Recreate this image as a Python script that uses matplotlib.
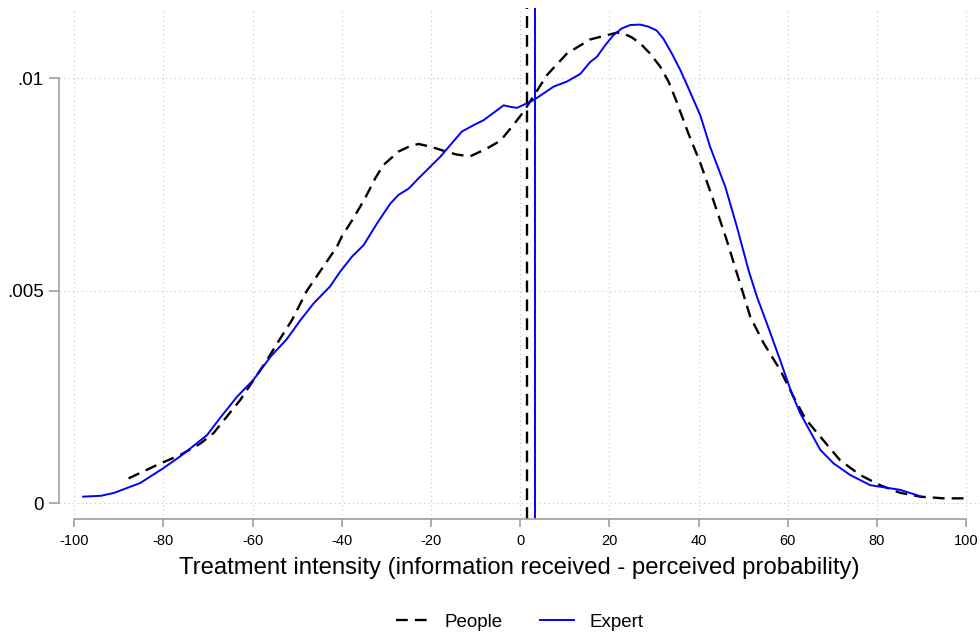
import numpy as np
import matplotlib.pyplot as plt

plt.rcParams['font.family'] = ['Liberation Sans', 'DejaVu Sans']

# kernel densities
people_x = [-87.8, -80.7, -76.2, -71.7, -68.8, -65.8, -62.8, -59.8, -56.8, -53.8,
            -51.2, -47.8, -41.1, -40.0, -37.4, -34.8, -32.5, -30.7, -27.3, -24.7,
            -22.8, -19.8, -17.2, -14.2, -11.2, -7.5, -5.2, -3.7, -1.5, 0.7,
            3.4, 6.0, 10.5, 15.7, 18.7, 21.7, 23.2, 25.0, 26.9, 29.1,
            31.4, 33.3, 34.8, 37.7, 40.4, 43.3, 46.3, 49.3, 51.6, 54.6,
            58.3, 61.3, 63.9, 67.3, 71.7, 76.2, 80.7, 85.2, 89.7, 95.0,
            99.8]
people_y = [0.00058, 0.00093, 0.00113, 0.00140, 0.00164, 0.00203, 0.00242, 0.00289, 0.00336, 0.00387,
            0.00430, 0.00500, 0.00603, 0.00627, 0.00670, 0.00717, 0.00764, 0.00795, 0.00827, 0.00840,
            0.00845, 0.00838, 0.00829, 0.00820, 0.00816, 0.00834, 0.00848, 0.00862, 0.00890, 0.00920,
            0.00964, 0.01007, 0.01058, 0.01091, 0.01099, 0.01107, 0.01105, 0.01096, 0.01082, 0.01058,
            0.01027, 0.00991, 0.00952, 0.00870, 0.00800, 0.00713, 0.00619, 0.00517, 0.00438, 0.00376,
            0.00313, 0.00250, 0.00199, 0.00156, 0.00101, 0.00066, 0.00042, 0.00024, 0.00015, 0.00011,
            0.00011]

expert_x = [-98.0, -94.0, -91.0, -85.2, -80.0, -75.8, -70.2, -67.3, -63.5, -59.8,
            -56.0, -52.3, -49.3, -46.3, -42.6, -40.4, -37.7, -35.1, -32.1, -29.1,
            -27.3, -25.0, -22.8, -20.2, -17.9, -15.7, -13.1, -10.5, -8.2, -3.7,
            -2.0, -0.7, 3.0, 7.5, 10.5, 13.5, 15.7, 17.2, 19.1, 20.9,
            22.8, 24.7, 26.9, 28.8, 30.6, 32.1, 34.0, 35.9, 37.4, 38.9,
            40.4, 42.6, 46.0, 48.6, 51.2, 53.1, 55.3, 58.3, 60.9, 62.8,
            67.3, 70.3, 74.0, 78.5, 85.2, 89.7]
expert_y = [0.00015, 0.00017, 0.00024, 0.00047, 0.00082, 0.00113, 0.00160, 0.00200, 0.00250, 0.00290,
            0.00344, 0.00386, 0.00430, 0.00470, 0.00510, 0.00544, 0.00580, 0.00607, 0.00658, 0.00705,
            0.00725, 0.00740, 0.00764, 0.00791, 0.00815, 0.00842, 0.00874, 0.00889, 0.00901, 0.00936,
            0.00932, 0.00930, 0.00948, 0.00980, 0.00992, 0.01010, 0.01038, 0.01050, 0.01078, 0.01101,
            0.01117, 0.01125, 0.01126, 0.01121, 0.01112, 0.01093, 0.01058, 0.01019, 0.00984, 0.00948,
            0.00912, 0.00838, 0.00744, 0.00650, 0.00548, 0.00485, 0.00423, 0.00336, 0.00258, 0.00211,
            0.00125, 0.00093, 0.00066, 0.00042, 0.00031, 0.00016]

# means
people_mean = 1.5
expert_mean = 3.3

x_ticks = list(range(-100, 101, 20))
y_ticks = [0, 0.005, 0.01]
y_labels = ['0', '.005', '.01']

fig = plt.figure(figsize=(9.8, 6.35), dpi=100)
ax = fig.add_axes([59 / 980, 116 / 635, 921 / 980, 511 / 635])

ax.plot(people_x, people_y, color='black', lw=1.7, dashes=(5, 3), label='People')
ax.plot(expert_x, expert_y, color='#0000ff', lw=1.4, label='Expert')
ax.axvline(people_mean, color='black', lw=1.7, dashes=(5, 3))
ax.axvline(expert_mean, color='#0000ff', lw=1.4)

ax.set_xlim(-103.4, 103.1)
ax.set_ylim(-0.000376, 0.01165)

ax.set_xticks(x_ticks)
ax.set_xticklabels([str(t) for t in x_ticks])
ax.set_yticks(y_ticks)
ax.set_yticklabels(y_labels)

ax.grid(True, color='#c4c4c4', lw=0.8, linestyle=(0, (1, 3)))
ax.set_axisbelow(True)

for s in ['top', 'right']:
    ax.spines[s].set_visible(False)
ax.spines['left'].set_bounds(0, 0.01)
ax.spines['bottom'].set_bounds(-100, 100)
for s in ['left', 'bottom']:
    ax.spines[s].set_color('#a0a0a0')
    ax.spines[s].set_linewidth(1.2)

ax.tick_params(axis='y', length=7, width=1.2, color='#a0a0a0', labelsize=13.5, pad=4)
ax.tick_params(axis='x', length=6, width=1.2, color='#a0a0a0', labelsize=10.5, pad=5)

ax.set_xlabel('Treatment intensity (information received - perceived probability)',
              fontsize=17.2, labelpad=6)

fig.legend(loc='center', bbox_to_anchor=(519.5 / 980, 13 / 635), ncol=2, frameon=False,
           fontsize=13.5, handlelength=1.8, handletextpad=0.8, columnspacing=2.0)

fig.savefig('out.png', dpi=100)
